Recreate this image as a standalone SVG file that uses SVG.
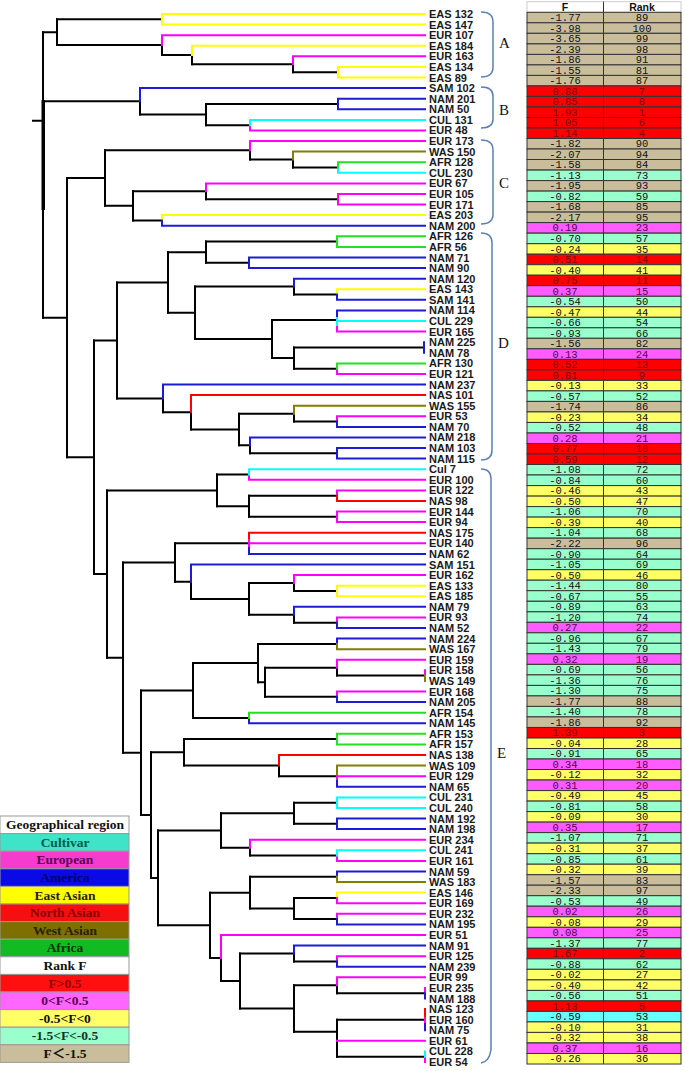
<svg xmlns="http://www.w3.org/2000/svg" xmlns:xlink="http://www.w3.org/1999/xlink" width="685" height="1071" viewBox="0 0 685 1071">
<style>
.t{fill:none;stroke-width:2;stroke-linecap:square}
.k{stroke:#000}.Y{stroke:#ffff00}.M{stroke:#ff00ff}.B{stroke:#1c1cd6}.C{stroke:#00ffff}.R{stroke:#ff0000}.O{stroke:#808000}.G{stroke:#22e022}
.lb text{font-family:"Liberation Sans",Arial,sans-serif;font-weight:bold;font-size:11px;fill:#1a1a1a}
.br{fill:none;stroke:#5b7fb5;stroke-width:1.5}
.bl{font-family:"Liberation Serif","Times New Roman",serif;font-size:15px;fill:#111}
.tb text{font-family:"Liberation Mono","Courier New",monospace;font-size:10.5px;text-anchor:middle;fill:#111}
.tb text.tr{fill:#7a0000}.tb text.tp{fill:#560056}
.tan{fill:#c9bd9b}.red{fill:#ff0000}.pk{fill:#ff5cff}.yl{fill:#ffff66}.mn{fill:#99ffcc}.cy{fill:#66ffff}
.lg text{font-family:"Liberation Serif","Times New Roman","Noto Sans CJK SC",serif;font-weight:bold;font-size:13.5px;text-anchor:middle}
</style>
<defs>
<rect id="row" x="527" y="0" width="154" height="10.52" stroke="#333" stroke-width="1"/>
<rect id="lrow" x="0" y="0" width="129" height="17.6" stroke="#999" stroke-width="1"/>
</defs>
<rect width="685" height="1071" fill="#fff"/>

<g id="connectors">
<path class="t k" d="M57 19.3V45.1M293 64.25V72.2M192 55V64.25M162 45.1V55M206 104V125.15M140 101.35V114.6M293 159.55V167.5M250 150.3V159.55M206 191.3V199.25M133 191.3V220.4M105 150.3V205.85M206 241.6V262.8M294 286.6V294.5M294 347.5V368.65M272 320V358.1M195 286.6V339.05M168 252.2V312.8M294 413.65V421.6M250 445.35V453.3M239 413.65V445.35M191 412.3V429.5M163 398.4V412.3M117 282.5V398.4M249 495.7V516.8M217 474.5V506.25M294 583V590.95M294 614.75V622.7M249 583V614.75M191 581.7V598.9M175 543.3V581.7M337 667.65V675.6M265 667.65V696.8M258 643.9V682.2M193 663.05V718M279 765.6V776.2M184 739.1V765.6M294 802.7V823.8M250 847.65V855.6M221 813.25V847.65M294 897.9V919.1M250 876.8V908.5M294 953.5V961.45M337 985.25V993.2M337 1019.7V1056.7M294 985.25V1031.7M240 953.5V1008.5M221 958V981M210 892.65V958M158 830.45V925.3M151 752.35V877.9M141 690.5V815.1M123 562.5V752.8M107 490.4V657.65M94 340.45V574M67 178.1V457.2M43 32.2V317.65"/>
<path class="t k" d="M293 72.2H338M192 64.25H293M162 55H192M57 19.3H162M57 45.1H162M206 104H338M206 125.15H250M140 114.6H206M293 167.5H338M250 159.55H293M206 199.25H338M133 191.3H206M133 220.4H162M105 150.3H250M105 205.85H133M206 241.6H337M206 262.8H249M294 294.5H337M294 347.5H424M294 368.65H337M272 320H337M272 358.1H294M195 286.6H294M195 339.05H272M168 252.2H206M168 312.8H195M294 421.6H337M250 453.3H337M239 413.65H294M239 445.35H250M191 429.5H239M163 412.3H191M117 282.5H168M117 398.4H163M249 495.7H337M249 516.8H337M217 474.5H249M217 506.25H249M294 590.95H337M294 622.7H337M249 583H294M249 614.75H294M191 598.9H249M175 543.3H249M175 581.7H191M337 675.6H425M265 667.65H337M265 696.8H337M258 643.9H337M258 682.2H265M193 663.05H258M193 718H249M279 776.2H337M184 739.1H337M184 765.6H279M294 802.7H337M294 823.8H337M250 855.6H337M221 813.25H294M221 847.65H250M294 897.9H337M294 919.1H337M250 876.8H337M250 908.5H294M294 961.45H337M337 993.2H425M337 1019.7H425M337 1056.7H425M294 985.25H337M294 1031.7H337M240 953.5H294M240 1008.5H294M221 981H240M210 892.65H250M210 958H221M158 830.45H221M158 925.3H210M151 752.35H184M151 877.9H158M141 690.5H193M141 815.1H151M123 562.5H175M123 752.8H141M107 490.4H217M107 657.65H123M94 340.45H117M94 574H107M67 178.1H105M67 457.2H94M43 32.2H57M43 101.35H140M43 317.65H67M33 120.7H43"/>
<rect x="41.5" y="100" width="3.5" height="110" fill="#000"/>
<path class="t Y" d="M162 14H425M162 24.6H425M192 45.8H425M338 66.9H425M338 77.5H425M162 215.1H425M337 289.2H425M337 585.7H425M337 596.2H425M337 892.6H425M162 14V24.6M192 45.8V55M338 66.9V77.5M162 215.1V220.4M337 289.2V294.5M337 585.7V596.2M337 892.6V897.9"/>
<path class="t M" d="M162 35.2H425M293 56.3H425M250 130.4H425M250 141H425M206 183.4H425M338 194H425M338 204.5H425M337 331.6H425M337 373.9H425M337 416.3H425M249 479.8H425M337 490.4H425M337 511.5H425M337 522.1H425M249 543.3H425M294 575.1H425M337 617.4H425M337 659.7H425M337 691.5H425M337 776.2H425M250 839.7H425M337 860.9H425M337 903.2H425M337 913.8H425M221 935H425M337 956.2H425M337 977.3H425M337 1040.8H425M162 35.2V45.1M293 56.3V64.25M250 125.15V130.4M250 141V150.3M338 194V204.5M206 183.4V191.3M337 325V331.6M337 368.65V373.9M337 416.3V421.6M249 474.5V479.8M337 490.4V495.7M337 511.5V522.1M249 538V548M294 575.1V583M337 617.4V622.7M425 670.3V675.6M337 659.7V667.65M337 691.5V696.8M337 774V781M337 855.6V860.9M250 839.7V847.65M337 897.9V903.2M337 913.8V919.1M337 956.2V961.45M425 987.9V993.2M337 977.3V985.25M425 1016V1024M425 1056.7V1062M221 935V958"/>
<path class="t B" d="M140 88.1H425M338 98.7H425M338 109.3H425M162 225.7H425M249 257.5H425M249 268.1H425M294 278.7H425M337 299.8H425M337 310.4H425M163 384.5H425M337 426.9H425M250 437.4H425M337 448H425M337 458.6H425M249 553.9H425M191 564.5H425M294 606.8H425M337 628H425M337 638.6H425M337 702.1H425M249 723.3H425M337 786.8H425M337 818.5H425M337 829.1H425M337 871.5H425M337 924.4H425M294 945.6H425M337 966.7H425M338 98.7V109.3M140 88.1V101.35M162 220.4V225.7M249 257.5V268.1M337 294.5V299.8M294 278.7V286.6M337 310.4V318M424 342.2V352.8M337 421.6V426.9M337 448V458.6M250 437.4V445.35M163 384.5V398.4M249 548V553.9M337 622.7V628M294 606.8V614.75M191 564.5V581.7M337 638.6V643.9M337 696.8V702.1M249 718V723.3M337 781V786.8M337 818.5V829.1M337 871.5V876.8M337 919.1V924.4M337 961.45V966.7M294 945.6V953.5M425 993.2V998.5M425 1024V1030.3"/>
<path class="t C" d="M250 119.9H425M338 172.8H425M337 321H425M249 469.2H425M337 797.4H425M337 808H425M337 850.3H425M250 119.9V125.15M338 167.5V172.8M337 318V325M249 469.2V474.5M337 797.4V808M337 850.3V855.6M425 1051.4V1056.7"/>
<path class="t R" d="M191 395.1H425M337 501H425M249 532.7H425M279 755H425M191 395.1V412.3M337 495.7V501M249 532.7V538M279 755V765.6M425 1009.1V1016"/>
<path class="t O" d="M293 151.6H425M294 405.7H425M337 649.2H425M337 765.6H425M337 882.1H425M293 151.6V159.55M294 405.7V413.65M337 643.9V649.2M425 675.6V680.9M337 765.6V774M337 876.8V882.1"/>
<path class="t G" d="M338 162.2H425M337 236.3H425M337 246.9H425M337 363.4H425M249 712.7H425M337 733.8H425M337 744.4H425M338 162.2V167.5M337 236.3V246.9M337 363.4V368.65M249 712.7V718M337 733.8V744.4"/>
</g>

<g class="lb">
<g id="n0"><text x="429" y="18.0">EAS 132</text></g>
<g id="n1"><text x="429" y="28.6">EAS 147</text></g>
<g id="n2"><text x="429" y="39.2">EUR 107</text></g>
<g id="n3"><text x="429" y="49.8">EAS 184</text></g>
<g id="n4"><text x="429" y="60.3">EUR 163</text></g>
<g id="n5"><text x="429" y="70.9">EAS 134</text></g>
<g id="n6"><text x="429" y="81.5">EAS 89</text></g>
<g id="n7"><text x="429" y="92.1">SAM 102</text></g>
<g id="n8"><text x="429" y="102.7">NAM 201</text></g>
<g id="n9"><text x="429" y="113.3">NAM 50</text></g>
<g id="n10"><text x="429" y="123.9">CUL 131</text></g>
<g id="n11"><text x="429" y="134.4">EUR 48</text></g>
<g id="n12"><text x="429" y="145.0">EUR 173</text></g>
<g id="n13"><text x="429" y="155.6">WAS 150</text></g>
<g id="n14"><text x="429" y="166.2">AFR 128</text></g>
<g id="n15"><text x="429" y="176.8">CUL 230</text></g>
<g id="n16"><text x="429" y="187.4">EUR 67</text></g>
<g id="n17"><text x="429" y="198.0">EUR 105</text></g>
<g id="n18"><text x="429" y="208.5">EUR 171</text></g>
<g id="n19"><text x="429" y="219.1">EAS 203</text></g>
<g id="n20"><text x="429" y="229.7">NAM 200</text></g>
<g id="n21"><text x="429" y="240.3">AFR 126</text></g>
<g id="n22"><text x="429" y="250.9">AFR 56</text></g>
<g id="n23"><text x="429" y="261.5">NAM 71</text></g>
<g id="n24"><text x="429" y="272.1">NAM 90</text></g>
<g id="n25"><text x="429" y="282.7">NAM 120</text></g>
<g id="n26"><text x="429" y="293.2">EAS 143</text></g>
<g id="n27"><text x="429" y="303.8">SAM 141</text></g>
<g id="n28"><text x="429" y="314.4">NAM 114</text></g>
<g id="n29"><text x="429" y="325.0">CUL 229</text></g>
<g id="n30"><text x="429" y="335.6">EUR 165</text></g>
<g id="n31"><text x="429" y="346.2">NAM 225</text></g>
<g id="n32"><text x="429" y="356.8">NAM 78</text></g>
<g id="n33"><text x="429" y="367.4">AFR 130</text></g>
<g id="n34"><text x="429" y="377.9">EUR 121</text></g>
<g id="n35"><text x="429" y="388.5">NAM 237</text></g>
<g id="n36"><text x="429" y="399.1">NAS 101</text></g>
<g id="n37"><text x="429" y="409.7">WAS 155</text></g>
<g id="n38"><text x="429" y="420.3">EUR 53</text></g>
<g id="n39"><text x="429" y="430.9">NAM 70</text></g>
<g id="n40"><text x="429" y="441.4">NAM 218</text></g>
<g id="n41"><text x="429" y="452.0">NAM 103</text></g>
<g id="n42"><text x="429" y="462.6">NAM 115</text></g>
<g id="n43"><text x="429" y="473.2">Cul 7</text></g>
<g id="n44"><text x="429" y="483.8">EUR 100</text></g>
<g id="n45"><text x="429" y="494.4">EUR 122</text></g>
<g id="n46"><text x="429" y="505.0">NAS 98</text></g>
<g id="n47"><text x="429" y="515.5">EUR 144</text></g>
<g id="n48"><text x="429" y="526.1">EUR 94</text></g>
<g id="n49"><text x="429" y="536.7">NAS 175</text></g>
<g id="n50"><text x="429" y="547.3">EUR 140</text></g>
<g id="n51"><text x="429" y="557.9">NAM 62</text></g>
<g id="n52"><text x="429" y="568.5">SAM 151</text></g>
<g id="n53"><text x="429" y="579.1">EUR 162</text></g>
<g id="n54"><text x="429" y="589.7">EAS 133</text></g>
<g id="n55"><text x="429" y="600.2">EAS 185</text></g>
<g id="n56"><text x="429" y="610.8">NAM 79</text></g>
<g id="n57"><text x="429" y="621.4">EUR 93</text></g>
<g id="n58"><text x="429" y="632.0">NAM 52</text></g>
<g id="n59"><text x="429" y="642.6">NAM 224</text></g>
<g id="n60"><text x="429" y="653.2">WAS 167</text></g>
<g id="n61"><text x="429" y="663.7">EUR 159</text></g>
<g id="n62"><text x="429" y="674.3">EUR 158</text></g>
<g id="n63"><text x="429" y="684.9">WAS 149</text></g>
<g id="n64"><text x="429" y="695.5">EUR 168</text></g>
<g id="n65"><text x="429" y="706.1">NAM 205</text></g>
<g id="n66"><text x="429" y="716.7">AFR 154</text></g>
<g id="n67"><text x="429" y="727.3">NAM 145</text></g>
<g id="n68"><text x="429" y="737.8">AFR 153</text></g>
<g id="n69"><text x="429" y="748.4">AFR 157</text></g>
<g id="n70"><text x="429" y="759.0">NAS 138</text></g>
<g id="n71"><text x="429" y="769.6">WAS 109</text></g>
<g id="n72"><text x="429" y="780.2">EUR 129</text></g>
<g id="n73"><text x="429" y="790.8">NAM 65</text></g>
<g id="n74"><text x="429" y="801.4">CUL 231</text></g>
<g id="n75"><text x="429" y="812.0">CUL 240</text></g>
<g id="n76"><text x="429" y="822.5">NAM 192</text></g>
<g id="n77"><text x="429" y="833.1">NAM 198</text></g>
<g id="n78"><text x="429" y="843.7">EUR 234</text></g>
<g id="n79"><text x="429" y="854.3">CUL 241</text></g>
<g id="n80"><text x="429" y="864.9">EUR 161</text></g>
<g id="n81"><text x="429" y="875.5">NAM 59</text></g>
<g id="n82"><text x="429" y="886.1">WAS 183</text></g>
<g id="n83"><text x="429" y="896.6">EAS 146</text></g>
<g id="n84"><text x="429" y="907.2">EUR 169</text></g>
<g id="n85"><text x="429" y="917.8">EUR 232</text></g>
<g id="n86"><text x="429" y="928.4">NAM 195</text></g>
<g id="n87"><text x="429" y="939.0">EUR 51</text></g>
<g id="n88"><text x="429" y="949.6">NAM 91</text></g>
<g id="n89"><text x="429" y="960.2">EUR 125</text></g>
<g id="n90"><text x="429" y="970.7">NAM 239</text></g>
<g id="n91"><text x="429" y="981.3">EUR 99</text></g>
<g id="n92"><text x="429" y="991.9">EUR 235</text></g>
<g id="n93"><text x="429" y="1002.5">NAM 188</text></g>
<g id="n94"><text x="429" y="1013.1">NAS 123</text></g>
<g id="n95"><text x="429" y="1023.7">EUR 160</text></g>
<g id="n96"><text x="429" y="1034.3">NAM 75</text></g>
<g id="n97"><text x="429" y="1044.8">EUR 61</text></g>
<g id="n98"><text x="429" y="1055.4">CUL 228</text></g>
<g id="n99"><text x="429" y="1066.0">EUR 54</text></g>
</g>

<g id="brackets">
<path class="br" d="M481 12Q493 12 493 22V67Q493 77 481 77"/>
<path class="br" d="M481 87Q493 87 493 96V119Q493 128 481 128"/>
<path class="br" d="M481 140Q493 140 493 150V214Q493 224 481 224"/>
<path class="br" d="M481 233Q492 233 492 243V450Q492 460 481 460"/>
<path class="br" d="M481 469Q491 469 491 479V1050Q489 1062 481 1063"/>
<text class="bl" x="499" y="48">A</text>
<text class="bl" x="499" y="115">B</text>
<text class="bl" x="499" y="188">C</text>
<text class="bl" x="498" y="348">D</text>
<text class="bl" x="497" y="758">E</text>
</g>

<g id="table" class="tb">
<rect x="527" y="1.7" width="154" height="10.6" fill="#fff" stroke="#ccc" stroke-width="1"/>
<text x="565" y="10.5" style="font-family:'Liberation Sans',Arial,sans-serif;font-weight:bold;font-size:10.5px">F</text>
<text x="642" y="10.5" style="font-family:'Liberation Sans',Arial,sans-serif;font-weight:bold;font-size:10.5px">Rank</text>
<g transform="translate(0,12.3)"><use href="#row" class="tan"/><text x="565" y="8.8">-1.77</text><text x="642" y="8.8">89</text></g>
<g transform="translate(0,22.8)"><use href="#row" class="tan"/><text x="565" y="8.8">-3.98</text><text x="642" y="8.8">100</text></g>
<g transform="translate(0,33.3)"><use href="#row" class="tan"/><text x="565" y="8.8">-3.65</text><text x="642" y="8.8">99</text></g>
<g transform="translate(0,43.9)"><use href="#row" class="tan"/><text x="565" y="8.8">-2.39</text><text x="642" y="8.8">98</text></g>
<g transform="translate(0,54.4)"><use href="#row" class="tan"/><text x="565" y="8.8">-1.86</text><text x="642" y="8.8">91</text></g>
<g transform="translate(0,64.9)"><use href="#row" class="tan"/><text x="565" y="8.8">-1.55</text><text x="642" y="8.8">81</text></g>
<g transform="translate(0,75.4)"><use href="#row" class="tan"/><text x="565" y="8.8">-1.76</text><text x="642" y="8.8">87</text></g>
<g transform="translate(0,85.9)"><use href="#row" class="red"/><text class="tr" x="565" y="8.8">0.88</text><text class="tr" x="642" y="8.8">7</text></g>
<g transform="translate(0,96.4)"><use href="#row" class="red"/><text class="tr" x="565" y="8.8">0.85</text><text class="tr" x="642" y="8.8">8</text></g>
<g transform="translate(0,107.0)"><use href="#row" class="red"/><text class="tr" x="565" y="8.8">1.93</text><text class="tr" x="642" y="8.8">1</text></g>
<g transform="translate(0,117.5)"><use href="#row" class="red"/><text class="tr" x="565" y="8.8">1.05</text><text class="tr" x="642" y="8.8">6</text></g>
<g transform="translate(0,128.0)"><use href="#row" class="red"/><text class="tr" x="565" y="8.8">1.14</text><text class="tr" x="642" y="8.8">4</text></g>
<g transform="translate(0,138.5)"><use href="#row" class="tan"/><text x="565" y="8.8">-1.82</text><text x="642" y="8.8">90</text></g>
<g transform="translate(0,149.0)"><use href="#row" class="tan"/><text x="565" y="8.8">-2.07</text><text x="642" y="8.8">94</text></g>
<g transform="translate(0,159.5)"><use href="#row" class="tan"/><text x="565" y="8.8">-1.58</text><text x="642" y="8.8">84</text></g>
<g transform="translate(0,170.1)"><use href="#row" class="mn"/><text x="565" y="8.8">-1.13</text><text x="642" y="8.8">73</text></g>
<g transform="translate(0,180.6)"><use href="#row" class="tan"/><text x="565" y="8.8">-1.95</text><text x="642" y="8.8">93</text></g>
<g transform="translate(0,191.1)"><use href="#row" class="mn"/><text x="565" y="8.8">-0.82</text><text x="642" y="8.8">59</text></g>
<g transform="translate(0,201.6)"><use href="#row" class="tan"/><text x="565" y="8.8">-1.68</text><text x="642" y="8.8">85</text></g>
<g transform="translate(0,212.1)"><use href="#row" class="tan"/><text x="565" y="8.8">-2.17</text><text x="642" y="8.8">95</text></g>
<g transform="translate(0,222.6)"><use href="#row" class="pk"/><text class="tp" x="565" y="8.8">0.19</text><text class="tp" x="642" y="8.8">23</text></g>
<g transform="translate(0,233.2)"><use href="#row" class="mn"/><text x="565" y="8.8">-0.70</text><text x="642" y="8.8">57</text></g>
<g transform="translate(0,243.7)"><use href="#row" class="yl"/><text x="565" y="8.8">-0.24</text><text x="642" y="8.8">35</text></g>
<g transform="translate(0,254.2)"><use href="#row" class="red"/><text class="tr" x="565" y="8.8">0.51</text><text class="tr" x="642" y="8.8">14</text></g>
<g transform="translate(0,264.7)"><use href="#row" class="yl"/><text x="565" y="8.8">-0.40</text><text x="642" y="8.8">41</text></g>
<g transform="translate(0,275.2)"><use href="#row" class="red"/><text class="tr" x="565" y="8.8">0.75</text><text class="tr" x="642" y="8.8">11</text></g>
<g transform="translate(0,285.7)"><use href="#row" class="pk"/><text class="tp" x="565" y="8.8">0.37</text><text class="tp" x="642" y="8.8">15</text></g>
<g transform="translate(0,296.3)"><use href="#row" class="mn"/><text x="565" y="8.8">-0.54</text><text x="642" y="8.8">50</text></g>
<g transform="translate(0,306.8)"><use href="#row" class="yl"/><text x="565" y="8.8">-0.47</text><text x="642" y="8.8">44</text></g>
<g transform="translate(0,317.3)"><use href="#row" class="mn"/><text x="565" y="8.8">-0.66</text><text x="642" y="8.8">54</text></g>
<g transform="translate(0,327.8)"><use href="#row" class="mn"/><text x="565" y="8.8">-0.93</text><text x="642" y="8.8">66</text></g>
<g transform="translate(0,338.3)"><use href="#row" class="tan"/><text x="565" y="8.8">-1.56</text><text x="642" y="8.8">82</text></g>
<g transform="translate(0,348.8)"><use href="#row" class="pk"/><text class="tp" x="565" y="8.8">0.13</text><text class="tp" x="642" y="8.8">24</text></g>
<g transform="translate(0,359.4)"><use href="#row" class="red"/><text class="tr" x="565" y="8.8">0.52</text><text class="tr" x="642" y="8.8">13</text></g>
<g transform="translate(0,369.9)"><use href="#row" class="red"/><text class="tr" x="565" y="8.8">0.81</text><text class="tr" x="642" y="8.8">9</text></g>
<g transform="translate(0,380.4)"><use href="#row" class="yl"/><text x="565" y="8.8">-0.13</text><text x="642" y="8.8">33</text></g>
<g transform="translate(0,390.9)"><use href="#row" class="mn"/><text x="565" y="8.8">-0.57</text><text x="642" y="8.8">52</text></g>
<g transform="translate(0,401.4)"><use href="#row" class="tan"/><text x="565" y="8.8">-1.74</text><text x="642" y="8.8">86</text></g>
<g transform="translate(0,411.9)"><use href="#row" class="yl"/><text x="565" y="8.8">-0.23</text><text x="642" y="8.8">34</text></g>
<g transform="translate(0,422.5)"><use href="#row" class="mn"/><text x="565" y="8.8">-0.52</text><text x="642" y="8.8">48</text></g>
<g transform="translate(0,433.0)"><use href="#row" class="pk"/><text class="tp" x="565" y="8.8">0.28</text><text class="tp" x="642" y="8.8">21</text></g>
<g transform="translate(0,443.5)"><use href="#row" class="red"/><text class="tr" x="565" y="8.8">0.77</text><text class="tr" x="642" y="8.8">10</text></g>
<g transform="translate(0,454.0)"><use href="#row" class="red"/><text class="tr" x="565" y="8.8">0.59</text><text class="tr" x="642" y="8.8">12</text></g>
<g transform="translate(0,464.5)"><use href="#row" class="mn"/><text x="565" y="8.8">-1.08</text><text x="642" y="8.8">72</text></g>
<g transform="translate(0,475.0)"><use href="#row" class="mn"/><text x="565" y="8.8">-0.84</text><text x="642" y="8.8">60</text></g>
<g transform="translate(0,485.6)"><use href="#row" class="yl"/><text x="565" y="8.8">-0.46</text><text x="642" y="8.8">43</text></g>
<g transform="translate(0,496.1)"><use href="#row" class="yl"/><text x="565" y="8.8">-0.50</text><text x="642" y="8.8">47</text></g>
<g transform="translate(0,506.6)"><use href="#row" class="mn"/><text x="565" y="8.8">-1.06</text><text x="642" y="8.8">70</text></g>
<g transform="translate(0,517.1)"><use href="#row" class="yl"/><text x="565" y="8.8">-0.39</text><text x="642" y="8.8">40</text></g>
<g transform="translate(0,527.6)"><use href="#row" class="mn"/><text x="565" y="8.8">-1.04</text><text x="642" y="8.8">68</text></g>
<g transform="translate(0,538.2)"><use href="#row" class="tan"/><text x="565" y="8.8">-2.22</text><text x="642" y="8.8">96</text></g>
<g transform="translate(0,548.7)"><use href="#row" class="mn"/><text x="565" y="8.8">-0.90</text><text x="642" y="8.8">64</text></g>
<g transform="translate(0,559.2)"><use href="#row" class="mn"/><text x="565" y="8.8">-1.05</text><text x="642" y="8.8">69</text></g>
<g transform="translate(0,569.7)"><use href="#row" class="yl"/><text x="565" y="8.8">-0.50</text><text x="642" y="8.8">46</text></g>
<g transform="translate(0,580.2)"><use href="#row" class="mn"/><text x="565" y="8.8">-1.44</text><text x="642" y="8.8">80</text></g>
<g transform="translate(0,590.7)"><use href="#row" class="mn"/><text x="565" y="8.8">-0.67</text><text x="642" y="8.8">55</text></g>
<g transform="translate(0,601.3)"><use href="#row" class="mn"/><text x="565" y="8.8">-0.89</text><text x="642" y="8.8">63</text></g>
<g transform="translate(0,611.8)"><use href="#row" class="mn"/><text x="565" y="8.8">-1.20</text><text x="642" y="8.8">74</text></g>
<g transform="translate(0,622.3)"><use href="#row" class="pk"/><text class="tp" x="565" y="8.8">0.27</text><text class="tp" x="642" y="8.8">22</text></g>
<g transform="translate(0,632.8)"><use href="#row" class="mn"/><text x="565" y="8.8">-0.96</text><text x="642" y="8.8">67</text></g>
<g transform="translate(0,643.3)"><use href="#row" class="mn"/><text x="565" y="8.8">-1.43</text><text x="642" y="8.8">79</text></g>
<g transform="translate(0,653.8)"><use href="#row" class="pk"/><text class="tp" x="565" y="8.8">0.32</text><text class="tp" x="642" y="8.8">19</text></g>
<g transform="translate(0,664.4)"><use href="#row" class="mn"/><text x="565" y="8.8">-0.69</text><text x="642" y="8.8">56</text></g>
<g transform="translate(0,674.9)"><use href="#row" class="mn"/><text x="565" y="8.8">-1.36</text><text x="642" y="8.8">76</text></g>
<g transform="translate(0,685.4)"><use href="#row" class="mn"/><text x="565" y="8.8">-1.30</text><text x="642" y="8.8">75</text></g>
<g transform="translate(0,695.9)"><use href="#row" class="tan"/><text x="565" y="8.8">-1.77</text><text x="642" y="8.8">88</text></g>
<g transform="translate(0,706.4)"><use href="#row" class="mn"/><text x="565" y="8.8">-1.40</text><text x="642" y="8.8">78</text></g>
<g transform="translate(0,716.9)"><use href="#row" class="tan"/><text x="565" y="8.8">-1.86</text><text x="642" y="8.8">92</text></g>
<g transform="translate(0,727.5)"><use href="#row" class="red"/><text class="tr" x="565" y="8.8">1.39</text><text class="tr" x="642" y="8.8">3</text></g>
<g transform="translate(0,738.0)"><use href="#row" class="yl"/><text x="565" y="8.8">-0.04</text><text x="642" y="8.8">28</text></g>
<g transform="translate(0,748.5)"><use href="#row" class="mn"/><text x="565" y="8.8">-0.91</text><text x="642" y="8.8">65</text></g>
<g transform="translate(0,759.0)"><use href="#row" class="pk"/><text class="tp" x="565" y="8.8">0.34</text><text class="tp" x="642" y="8.8">18</text></g>
<g transform="translate(0,769.5)"><use href="#row" class="yl"/><text x="565" y="8.8">-0.12</text><text x="642" y="8.8">32</text></g>
<g transform="translate(0,780.0)"><use href="#row" class="pk"/><text class="tp" x="565" y="8.8">0.31</text><text class="tp" x="642" y="8.8">20</text></g>
<g transform="translate(0,790.6)"><use href="#row" class="yl"/><text x="565" y="8.8">-0.49</text><text x="642" y="8.8">45</text></g>
<g transform="translate(0,801.1)"><use href="#row" class="mn"/><text x="565" y="8.8">-0.81</text><text x="642" y="8.8">58</text></g>
<g transform="translate(0,811.6)"><use href="#row" class="yl"/><text x="565" y="8.8">-0.09</text><text x="642" y="8.8">30</text></g>
<g transform="translate(0,822.1)"><use href="#row" class="pk"/><text class="tp" x="565" y="8.8">0.35</text><text class="tp" x="642" y="8.8">17</text></g>
<g transform="translate(0,832.6)"><use href="#row" class="mn"/><text x="565" y="8.8">-1.07</text><text x="642" y="8.8">71</text></g>
<g transform="translate(0,843.1)"><use href="#row" class="yl"/><text x="565" y="8.8">-0.31</text><text x="642" y="8.8">37</text></g>
<g transform="translate(0,853.7)"><use href="#row" class="mn"/><text x="565" y="8.8">-0.85</text><text x="642" y="8.8">61</text></g>
<g transform="translate(0,864.2)"><use href="#row" class="yl"/><text x="565" y="8.8">-0.32</text><text x="642" y="8.8">39</text></g>
<g transform="translate(0,874.7)"><use href="#row" class="tan"/><text x="565" y="8.8">-1.57</text><text x="642" y="8.8">83</text></g>
<g transform="translate(0,885.2)"><use href="#row" class="tan"/><text x="565" y="8.8">-2.33</text><text x="642" y="8.8">97</text></g>
<g transform="translate(0,895.7)"><use href="#row" class="mn"/><text x="565" y="8.8">-0.53</text><text x="642" y="8.8">49</text></g>
<g transform="translate(0,906.2)"><use href="#row" class="pk"/><text class="tp" x="565" y="8.8">0.02</text><text class="tp" x="642" y="8.8">26</text></g>
<g transform="translate(0,916.8)"><use href="#row" class="yl"/><text x="565" y="8.8">-0.08</text><text x="642" y="8.8">29</text></g>
<g transform="translate(0,927.3)"><use href="#row" class="pk"/><text class="tp" x="565" y="8.8">0.08</text><text class="tp" x="642" y="8.8">25</text></g>
<g transform="translate(0,937.8)"><use href="#row" class="mn"/><text x="565" y="8.8">-1.37</text><text x="642" y="8.8">77</text></g>
<g transform="translate(0,948.3)"><use href="#row" class="red"/><text class="tr" x="565" y="8.8">1.67</text><text class="tr" x="642" y="8.8">2</text></g>
<g transform="translate(0,958.8)"><use href="#row" class="mn"/><text x="565" y="8.8">-0.88</text><text x="642" y="8.8">62</text></g>
<g transform="translate(0,969.3)"><use href="#row" class="yl"/><text x="565" y="8.8">-0.02</text><text x="642" y="8.8">27</text></g>
<g transform="translate(0,979.9)"><use href="#row" class="yl"/><text x="565" y="8.8">-0.40</text><text x="642" y="8.8">42</text></g>
<g transform="translate(0,990.4)"><use href="#row" class="mn"/><text x="565" y="8.8">-0.56</text><text x="642" y="8.8">51</text></g>
<g transform="translate(0,1000.9)"><use href="#row" class="red"/><text class="tr" x="565" y="8.8">1.13</text><text class="tr" x="642" y="8.8">5</text></g>
<g transform="translate(0,1011.4)"><use href="#row" class="cy"/><text x="565" y="8.8">-0.59</text><text x="642" y="8.8">53</text></g>
<g transform="translate(0,1021.9)"><use href="#row" class="yl"/><text x="565" y="8.8">-0.10</text><text x="642" y="8.8">31</text></g>
<g transform="translate(0,1032.4)"><use href="#row" class="yl"/><text x="565" y="8.8">-0.32</text><text x="642" y="8.8">38</text></g>
<g transform="translate(0,1043.0)"><use href="#row" class="pk"/><text class="tp" x="565" y="8.8">0.37</text><text class="tp" x="642" y="8.8">16</text></g>
<g transform="translate(0,1053.5)"><use href="#row" class="yl"/><text x="565" y="8.8">-0.26</text><text x="642" y="8.8">36</text></g>
<line x1="603.5" y1="1.7" x2="603.5" y2="1064" stroke="#333" stroke-width="1"/>
</g>

<g id="legend" class="lg">
<g transform="translate(0,816)"><use href="#lrow" fill="#fff"/><text x="65" y="13.3" fill="#111">Geographical region</text></g>
<g transform="translate(0,833.6)"><use href="#lrow" fill="#3fe3c8"/><text x="65" y="13.3" fill="#005a4a">Cultivar</text></g>
<g transform="translate(0,851.2)"><use href="#lrow" fill="#f53ccf"/><text x="65" y="13.3" fill="#5a0050">European</text></g>
<g transform="translate(0,868.8)"><use href="#lrow" fill="#0a0ae6"/><text x="65" y="13.3" fill="#000070">America</text></g>
<g transform="translate(0,886.4)"><use href="#lrow" fill="#ffff00"/><text x="65" y="13.3" fill="#222">East Asian</text></g>
<g transform="translate(0,904)"><use href="#lrow" fill="#f41010"/><text x="65" y="13.3" fill="#8a0000">North Asian</text></g>
<g transform="translate(0,921.6)"><use href="#lrow" fill="#7d7000"/><text x="65" y="13.3" fill="#262200">West Asian</text></g>
<g transform="translate(0,939.2)"><use href="#lrow" fill="#13bb22"/><text x="65" y="13.3" fill="#003300">Africa</text></g>
<g transform="translate(0,956.8)"><use href="#lrow" fill="#fff"/><text x="65" y="13.3" fill="#111">Rank F</text></g>
<g transform="translate(0,974.4)"><use href="#lrow" fill="#ff1010"/><text x="65" y="13.3" fill="#8a0000">F&gt;0.5</text></g>
<g transform="translate(0,992)"><use href="#lrow" fill="#ff66ff"/><text x="65" y="13.3" fill="#5a005a">0&lt;F&lt;0.5</text></g>
<g transform="translate(0,1009.6)"><use href="#lrow" fill="#ffff66"/><text x="65" y="13.3" fill="#111">-0.5&lt;F&lt;0</text></g>
<g transform="translate(0,1027.2)"><use href="#lrow" fill="#99ffcc"/><text x="65" y="13.3" fill="#113322">-1.5&lt;F&lt;-0.5</text></g>
<g transform="translate(0,1044.8)"><use href="#lrow" fill="#c9bd9b"/><text x="65" y="13.3" fill="#111">F＜-1.5</text></g>
</g>
</svg>
